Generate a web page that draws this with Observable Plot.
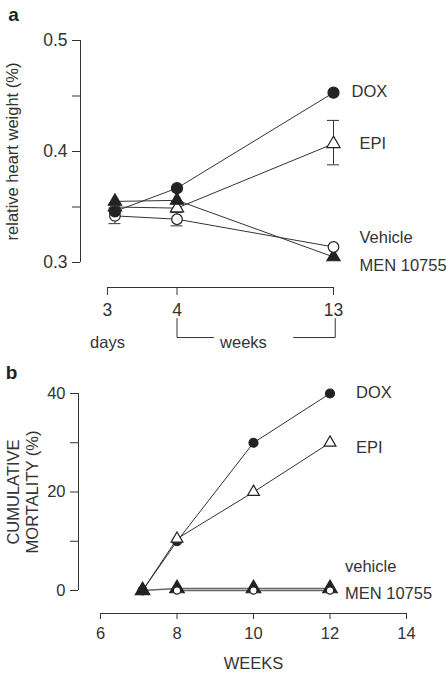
<!DOCTYPE html>
<html>
<head>
<meta charset="utf-8">
<script src="https://cdn.jsdelivr.net/npm/d3@7"></script>
<script src="https://cdn.jsdelivr.net/npm/@observablehq/plot@0.6"></script>
<style>
  html, body { margin: 0; padding: 0; background: #fff; }
  #chart { width: 446px; height: 675px; }
  #chart svg { display: block; }
</style>
</head>
<body>
<div id="chart"></div>
<script>
// ---------- Panel a: relative heart weight ----------
const aSeries = ["DOX", "EPI", "Vehicle", "MEN 10755"];
const aTimes = [0.43, 4, 13];              // weeks (3 days, 4 weeks, 13 weeks)
const aDOX = [0.346, 0.367, 0.453];
const aEPI = [0.350, 0.349, 0.407];
const aVehicle = [0.342, 0.339, 0.314];
const aMEN = [0.355, 0.356, 0.305];
const aErrSeries = ["Vehicle", "Vehicle", "EPI"];
const aErrTimes = [0.43, 4, 13];
const aErrLow = [0.335, 0.333, 0.388];
const aErrHigh = [0.349, 0.345, 0.428];
const aYTicks = [0.3, 0.4, 0.5];
const aYMinor = [0.35, 0.45];
const aXTicks = [0, 4, 13];
const aXTickLabels = ["3", "4", "13"];
const aYLabel = "relative heart weight (%)";

// ---------- Panel b: cumulative mortality ----------
const bSeries = ["DOX", "EPI", "vehicle", "MEN 10755"];
const bWeeks = [7.1, 8, 10, 12];
const bDOX = [0, 10, 30, 40];
const bEPI = [0, 10.5, 20, 30];
const bVehicle = [null, 0, 0, 0];
const bMEN = [0, 0.4, 0.4, 0.4];
const bYTicks = [0, 20, 40];
const bYMinor = [10, 30];
const bXTicks = [6, 8, 10, 12, 14];
const bYLabel = "CUMULATIVE\nMORTALITY (%)";
const bXLabel = "WEEKS";

const font = "'Liberation Sans', Arial, Helvetica, sans-serif";
const ink = "#333";

function rows(series, times, valuesList) {
  return series.flatMap((s, i) => times.map((t, j) => ({series: s, x: t, y: valuesList[i][j]})))
    .filter(d => d.y != null);
}

const aData = rows(aSeries, aTimes, [aDOX, aEPI, aVehicle, aMEN]);
const aErr = aErrSeries.map((s, i) => ({series: s, x: aErrTimes[i], lo: aErrLow[i], hi: aErrHigh[i]}));
const bData = rows(bSeries, bWeeks, [bDOX, bEPI, bVehicle, bMEN]);

const aStyle = {
  "DOX": {symbol: "circle", fill: "#222", r: 5.5},
  "EPI": {symbol: "triangle", fill: "white", r: 4.9},
  "Vehicle": {symbol: "circle", fill: "white", r: 5.3},
  "MEN 10755": {symbol: "triangle", fill: "#222", r: 4.9}
};
const aOrder = ["EPI", "MEN 10755", "Vehicle", "DOX"];
const aLabelPos = {
  "DOX": {dx: 18, dy: -1},
  "EPI": {dx: 26, dy: 0},
  "Vehicle": {dx: 26, dy: -9},
  "MEN 10755": {dx: 26, dy: 9}
};

const aXDomain = [-1.55, 13];
const plotA = Plot.plot({
  width: 446, height: 350,
  marginLeft: 80, marginRight: 113, marginTop: 40, marginBottom: 88,
  x: {domain: aXDomain},
  y: {domain: [0.3, 0.5]},
  style: {fontFamily: font, fontSize: "16.5px", color: ink, background: "white", overflow: "visible"},
  marks: [
    // y axis
    Plot.ruleX([aXDomain[0]], {y1: aYTicks[0], y2: aYTicks[aYTicks.length - 1], stroke: ink}),
    Plot.axisY({ticks: aYTicks, tickSize: 8, tickPadding: 5, tickFormat: d3.format(".1f"), fontSize: 17.5, label: null, stroke: ink}),
    Plot.axisY({ticks: aYMinor, tickSize: 8, tickFormat: () => "", label: null, stroke: ink}),
    Plot.text([aYLabel], {frameAnchor: "left", rotate: -90, dx: -68, textAnchor: "middle", lineAnchor: "middle", fontSize: 16.5, fill: ink}),
    // x axis (offset below plot)
    Plot.ruleY([0.3], {x1: aXTicks[0], x2: aXTicks[aXTicks.length - 1], dy: 25, stroke: ink}),
    Plot.axisX({ticks: aXTicks, tickSize: 8, tickPadding: 8, dy: 25, fontSize: 17.5, label: null, stroke: ink,
      tickFormat: d => aXTickLabels[aXTicks.indexOf(d)]}),
    // days / weeks annotation
    Plot.line([{x: 4, y: 0.2495}, {x: 4, y: 0.2324}, {x: 6.1, y: 0.2324}], {x: "x", y: "y", stroke: ink, strokeWidth: 1}),
    Plot.line([{x: 10.7, y: 0.2324}, {x: 13.1, y: 0.2324}, {x: 13.1, y: 0.2495}], {x: "x", y: "y", stroke: ink, strokeWidth: 1}),
    Plot.text(["days"], {x: 0, frameAnchor: "bottom", dy: 80, fontSize: 16.5, fill: ink, lineAnchor: "middle"}),
    Plot.text(["weeks"], {x: 7.82, frameAnchor: "bottom", dy: 80, fontSize: 16.5, fill: ink, lineAnchor: "middle"}),
    // panel letter
    Plot.text(["a"], {frameAnchor: "top-left", dx: -67, dy: -26, fontSize: 19, fontWeight: "bold", fill: "#222", textAnchor: "middle", lineAnchor: "middle"}),
    // lines
    Plot.line(aData, {x: "x", y: "y", z: "series", stroke: ink, strokeWidth: 1}),
    // error bars
    Plot.ruleX(aErr, {x: "x", y1: "lo", y2: "hi", stroke: ink, strokeWidth: 1}),
    Plot.ruleY(aErr, {y: "lo", x1: "x", x2: "x", insetLeft: -6, insetRight: -6, stroke: ink, strokeWidth: 1}),
    Plot.ruleY(aErr, {y: "hi", x1: "x", x2: "x", insetLeft: -6, insetRight: -6, stroke: ink, strokeWidth: 1}),
    // markers
    ...aOrder.map(s => Plot.dot(aData.filter(d => d.series === s), {
      x: "x", y: "y", symbol: aStyle[s].symbol, r: aStyle[s].r,
      fill: aStyle[s].fill, stroke: "#222", strokeWidth: 1.2
    })),
    // series labels
    ...aSeries.map(s => Plot.text(aData.filter(d => d.series === s && d.x === aTimes[aTimes.length - 1]), {
      x: "x", y: "y", text: "series", textAnchor: "start",
      dx: aLabelPos[s].dx, dy: aLabelPos[s].dy, fontSize: 16.5, fill: ink
    }))
  ]
});

const bStyle = {
  "DOX": {symbol: "circle", fill: "#222", r: 4.5},
  "EPI": {symbol: "triangle", fill: "white", r: 4.4},
  "vehicle": {symbol: "circle", fill: "white", r: 3.6},
  "MEN 10755": {symbol: "triangle", fill: "#222", r: 5.4}
};
const bOrder = ["DOX", "EPI", "MEN 10755", "vehicle"];
const bLabelPos = {
  "DOX": {dx: 26, dy: -1},
  "EPI": {dx: 26, dy: 5},
  "vehicle": {dx: 15, dy: -24},
  "MEN 10755": {dx: 15, dy: 5}
};

const bXDomain = [5.425, 14];
const plotB = Plot.plot({
  width: 446, height: 325,
  marginLeft: 78, marginRight: 40, marginTop: 43, marginBottom: 85,
  x: {domain: bXDomain},
  y: {domain: [0, 40]},
  style: {fontFamily: font, fontSize: "16.5px", color: ink, background: "white", overflow: "visible"},
  marks: [
    // y axis
    Plot.ruleX([bXDomain[0]], {y1: bYTicks[0], y2: bYTicks[bYTicks.length - 1], stroke: ink}),
    Plot.axisY({ticks: bYTicks, tickSize: 8, tickPadding: 5, fontSize: 16.5, label: null, stroke: ink}),
    Plot.axisY({ticks: bYMinor, tickSize: 8, tickFormat: () => "", label: null, stroke: ink}),
    Plot.text([bYLabel], {frameAnchor: "left", rotate: -90, dx: -56, textAnchor: "middle", lineAnchor: "middle", lineHeight: 1.12, fontSize: 16.5, fill: ink}),
    // x axis
    Plot.ruleY([0], {x1: bXTicks[0], x2: bXTicks[bXTicks.length - 1], dy: 23, stroke: ink}),
    Plot.axisX({ticks: bXTicks, tickSize: 6, tickPadding: 8, dy: 23, fontSize: 16.5, label: null, stroke: ink}),
    Plot.text([bXLabel], {x: 10, frameAnchor: "bottom", dy: 73, fontSize: 16.5, fill: ink, lineAnchor: "middle"}),
    // panel letter
    Plot.text(["b"], {frameAnchor: "top-left", dx: -67, dy: -21, fontSize: 19, fontWeight: "bold", fill: "#222", textAnchor: "middle", lineAnchor: "middle"}),
    // lines
    Plot.line(bData.filter(d => d.series === "DOX" || d.series === "EPI"), {x: "x", y: "y", z: "series", stroke: ink, strokeWidth: 1}),
    Plot.line(bData.filter(d => d.series === "vehicle" || d.series === "MEN 10755"), {x: "x", y: "y", z: "series", stroke: "#666", strokeWidth: 1.5}),
    // markers
    ...bOrder.map(s => Plot.dot(bData.filter(d => d.series === s), {
      x: "x", y: "y", symbol: bStyle[s].symbol, r: bStyle[s].r,
      fill: bStyle[s].fill, stroke: "#222", strokeWidth: 1.2
    })),
    // series labels
    ...bSeries.map(s => Plot.text(bData.filter(d => d.series === s && d.x === bWeeks[bWeeks.length - 1]), {
      x: "x", y: "y", text: "series", textAnchor: "start",
      dx: bLabelPos[s].dx, dy: bLabelPos[s].dy, fontSize: 16.5, fill: ink
    }))
  ]
});

const chart = document.getElementById("chart");
chart.appendChild(plotA);
chart.appendChild(plotB);
</script>
</body>
</html>
